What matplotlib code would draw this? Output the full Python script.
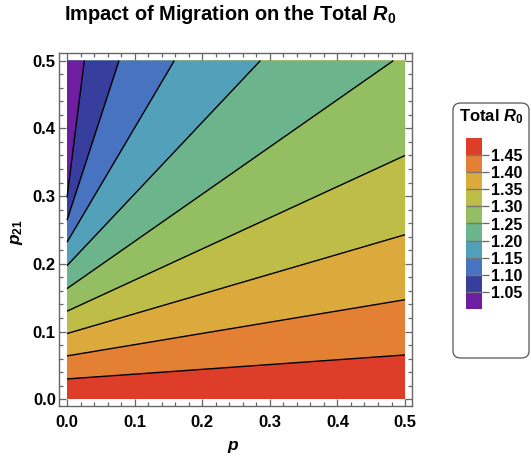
import matplotlib
matplotlib.use("Agg")
import matplotlib.pyplot as plt
from matplotlib.colors import ListedColormap, BoundaryNorm
from matplotlib.patches import FancyBboxPatch
from matplotlib.ticker import MultipleLocator
import matplotlib.colorbar as mcolorbar

plt.rcParams['font.family'] = ['Liberation Sans', 'DejaVu Sans']
plt.rcParams['font.weight'] = 'bold'
plt.rcParams['mathtext.fontset'] = 'custom'
plt.rcParams['mathtext.rm'] = 'Liberation Sans:bold'
plt.rcParams['mathtext.it'] = 'Liberation Sans:italic:bold'
plt.rcParams['mathtext.bf'] = 'Liberation Sans:bold'

# parameter ranges
p_range = [0.0, 0.5]
p21_range = [0.0, 0.5]

# contour levels of total R0 and where each contour line starts (p = 0)
# and where it leaves the square
levels = [1.45, 1.40, 1.35, 1.30, 1.25, 1.20, 1.15, 1.10, 1.05]
start_p21 = [0.030, 0.064, 0.097, 0.130, 0.1634, 0.1973, 0.2319, 0.2644, 0.298]
end_p = [0.5, 0.5, 0.5, 0.5, 0.4827, 0.286, 0.1587, 0.0769, 0.0256]
end_p21 = [0.0654, 0.147, 0.243, 0.360, 0.5, 0.5, 0.5, 0.5, 0.5]

# band colours from highest R0 (bottom) to lowest (top left)
colors = ['#DD3D29', '#E48034', '#DCAA3C', '#BDBD48', '#94BE62',
          '#6CB48C', '#52A0B9', '#4873C0', '#383E9E', '#6E1EA0']

fig = plt.figure(figsize=(5.31, 4.62), dpi=100)
ax = fig.add_axes([0.1117, 0.1219, 0.6637, 0.7628])

x0, x1 = p_range
y0, y1 = p21_range
ax.fill([x0, x1, x1, x0], [y0, y0, y1, y1], color=colors[0], lw=0)
for i in range(len(levels)):
    xs = [x0, end_p[i]]
    ys = [start_p21[i], end_p21[i]]
    if end_p[i] >= x1:
        xs.append(x1)
        ys.append(y1)
    xs.append(x0)
    ys.append(y1)
    ax.fill(xs, ys, color=colors[i + 1], lw=0)
for i in range(len(levels)):
    ax.plot([x0, end_p[i]], [start_p21[i], end_p21[i]], color='black', lw=1.0,
            solid_capstyle='butt')

ax.set_xlim(-0.0114, 0.5099)
ax.set_ylim(-0.0095, 0.5109)
ax.xaxis.set_major_locator(MultipleLocator(0.1))
ax.yaxis.set_major_locator(MultipleLocator(0.1))
ax.xaxis.set_minor_locator(MultipleLocator(0.02))
ax.yaxis.set_minor_locator(MultipleLocator(0.02))
ax.tick_params(which='both', direction='in', top=True, right=True, color='#666666', width=0.9)
ax.tick_params(which='major', length=5)
ax.tick_params(which='minor', length=3)
ax.tick_params(axis='x', pad=6.5, labelsize=12)
ax.tick_params(axis='y', pad=2.5, labelsize=12)
for lab in ax.get_xticklabels() + ax.get_yticklabels():
    lab.set_fontweight('bold')
for s in ax.spines.values():
    s.set_color('#666666')
    s.set_linewidth(1.0)

fig.text(233 / 531, 1 - 447 / 462, '$p$', fontsize=12.5, ha='center', va='center')
fig.text(17 / 531, 1 - 232 / 462, '$p_{21}$', fontsize=12.5, ha='center', va='center', rotation=90)
fig.text(230 / 531, 1 - 15 / 462, 'Impact of Migration on the Total $R_0$',
         fontsize=14.4, fontweight='bold', ha='center', va='center')

# legend box with the colour key
box = FancyBboxPatch((453 / 531, 1 - 358 / 462), 76 / 531, 255 / 462,
                     boxstyle='round,pad=0,rounding_size=0.015',
                     transform=fig.transFigure, facecolor='white',
                     edgecolor='#555555', linewidth=0.9, zorder=-1)
fig.patches.append(box)
fig.text(491.5 / 531, 1 - 117 / 462, 'Total $R_0$', fontsize=12, ha='center', va='center')

key_levels = levels[::-1]
cmap = ListedColormap(colors[::-1])
bounds = [0.0] + key_levels + [2.0]
norm = BoundaryNorm(bounds, cmap.N)
cax = fig.add_axes([466 / 531, 1 - 309.3 / 462, 16.3 / 531, 171.6 / 462])
cb = mcolorbar.ColorbarBase(cax, cmap=cmap, norm=norm, boundaries=bounds,
                            spacing='uniform', ticks=key_levels, drawedges=True)
cb.outline.set_visible(False)
cb.dividers.set_color('#777777')
cb.dividers.set_linewidth(1.0)
cax.minorticks_off()
cax.tick_params(length=5, width=0.9, color='#666666', pad=1.0, labelsize=11.5)
cax.set_yticklabels(['%.2f' % v for v in key_levels], fontweight='bold')

fig.savefig('out.png', dpi=100)
